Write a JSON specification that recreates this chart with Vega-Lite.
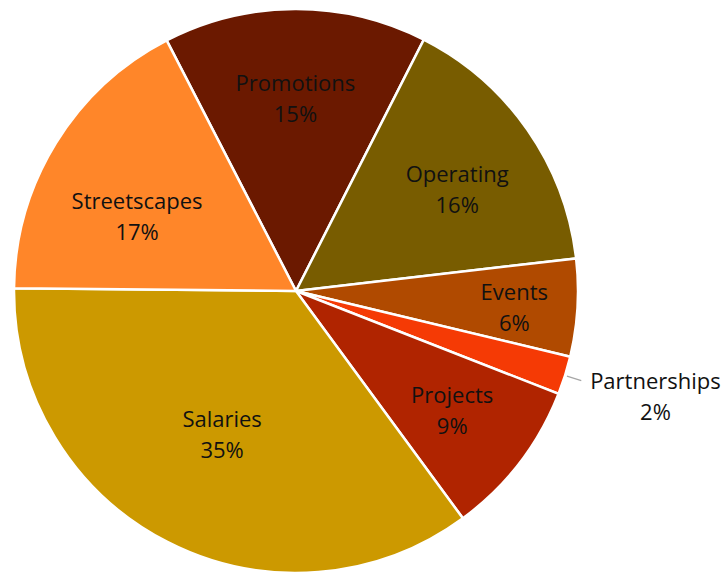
{
  "$schema": "https://vega.github.io/schema/vega-lite/v6.json",
  "width": 592,
  "height": 578,
  "autosize": {"type": "none"},
  "padding": {"left": 0, "top": 2, "right": 132, "bottom": 0},
  "background": "white",
  "view": {"stroke": null},
  "config": {"text": {"font": "Open Sans", "fontSize": 22, "color": "#111111", "align": "center", "baseline": "middle"}},
  "data": {"values": [
    {"idx": 1, "category": "Promotions", "share": 0.151},
    {"idx": 2, "category": "Operating", "share": 0.157},
    {"idx": 3, "category": "Events", "share": 0.056},
    {"idx": 4, "category": "Partnerships", "share": 0.022},
    {"idx": 5, "category": "Projects", "share": 0.09},
    {"idx": 6, "category": "Salaries", "share": 0.353},
    {"idx": 7, "category": "Streetscapes", "share": 0.173}
  ]},
  "encoding": {
    "theta": {"field": "share", "type": "quantitative", "stack": true, "scale": {"range": [5.8067, 12.0899]}},
    "order": {"field": "idx", "type": "quantitative"}
  },
  "layer": [
    {
      "mark": {"type": "arc", "outerRadius": 282, "stroke": "white", "strokeWidth": 2.5},
      "encoding": {
        "color": {"field": "category", "type": "nominal", "legend": null,
          "scale": {"domain": ["Promotions", "Operating", "Events", "Partnerships", "Projects", "Salaries", "Streetscapes"],
                    "range": ["#6B1900", "#785C00", "#B04A00", "#F53A05", "#B02400", "#CC9900", "#FF8629"]}}
      }
    },
    {
      "mark": {"type": "arc", "innerRadius": 284, "outerRadius": 299, "padAngle": 0.3, "fill": null, "stroke": "#A6A6A6", "strokeWidth": 1.2},
      "encoding": {
        "opacity": {"condition": {"test": "datum.category == 'Partnerships'", "value": 1}, "value": 0}
      }
    },
    {
      "mark": {"type": "text", "radius": 192, "dy": -15.5},
      "encoding": {"text": {"condition": {"test": "datum.category != 'Promotions'", "value": ""}, "field": "category", "type": "nominal"}}
    },
    {
      "mark": {"type": "text", "radius": 192, "dy": 15.5},
      "encoding": {"text": {"condition": {"test": "datum.category != 'Promotions'", "value": ""}, "field": "share", "type": "quantitative", "format": ".0%"}}
    },
    {
      "mark": {"type": "text", "radius": 197, "dy": -15.5},
      "encoding": {"text": {"condition": {"test": "datum.category != 'Projects'", "value": ""}, "field": "category", "type": "nominal"}}
    },
    {
      "mark": {"type": "text", "radius": 197, "dy": 15.5},
      "encoding": {"text": {"condition": {"test": "datum.category != 'Projects'", "value": ""}, "field": "share", "type": "quantitative", "format": ".0%"}}
    },
    {
      "mark": {"type": "text", "radius": 190, "thetaOffset": 0.05, "dy": -15.5},
      "encoding": {"text": {"condition": {"test": "datum.category != 'Operating'", "value": ""}, "field": "category", "type": "nominal"}}
    },
    {
      "mark": {"type": "text", "radius": 190, "thetaOffset": 0.05, "dy": 15.5},
      "encoding": {"text": {"condition": {"test": "datum.category != 'Operating'", "value": ""}, "field": "share", "type": "quantitative", "format": ".0%"}}
    },
    {
      "mark": {"type": "text", "radius": 219, "thetaOffset": 0.02, "dy": -15.5},
      "encoding": {"text": {"condition": {"test": "datum.category != 'Events'", "value": ""}, "field": "category", "type": "nominal"}}
    },
    {
      "mark": {"type": "text", "radius": 219, "thetaOffset": 0.02, "dy": 15.5},
      "encoding": {"text": {"condition": {"test": "datum.category != 'Events'", "value": ""}, "field": "share", "type": "quantitative", "format": ".0%"}}
    },
    {
      "mark": {"type": "text", "radius": 162, "dy": -15.5},
      "encoding": {"text": {"condition": {"test": "datum.category != 'Salaries'", "value": ""}, "field": "category", "type": "nominal"}}
    },
    {
      "mark": {"type": "text", "radius": 162, "dy": 15.5},
      "encoding": {"text": {"condition": {"test": "datum.category != 'Salaries'", "value": ""}, "field": "share", "type": "quantitative", "format": ".0%"}}
    },
    {
      "mark": {"type": "text", "radius": 175, "thetaOffset": -0.12, "dy": -15.5},
      "encoding": {"text": {"condition": {"test": "datum.category != 'Streetscapes'", "value": ""}, "field": "category", "type": "nominal"}}
    },
    {
      "mark": {"type": "text", "radius": 175, "thetaOffset": -0.12, "dy": 15.5},
      "encoding": {"text": {"condition": {"test": "datum.category != 'Streetscapes'", "value": ""}, "field": "share", "type": "quantitative", "format": ".0%"}}
    },
    {
      "mark": {"type": "text", "radius": 375, "thetaOffset": -0.015, "dy": -15.5},
      "encoding": {"text": {"condition": {"test": "datum.category != 'Partnerships'", "value": ""}, "field": "category", "type": "nominal"}}
    },
    {
      "mark": {"type": "text", "radius": 375, "thetaOffset": -0.015, "dy": 15.5},
      "encoding": {"text": {"condition": {"test": "datum.category != 'Partnerships'", "value": ""}, "field": "share", "type": "quantitative", "format": ".0%"}}
    }
  ]
}
